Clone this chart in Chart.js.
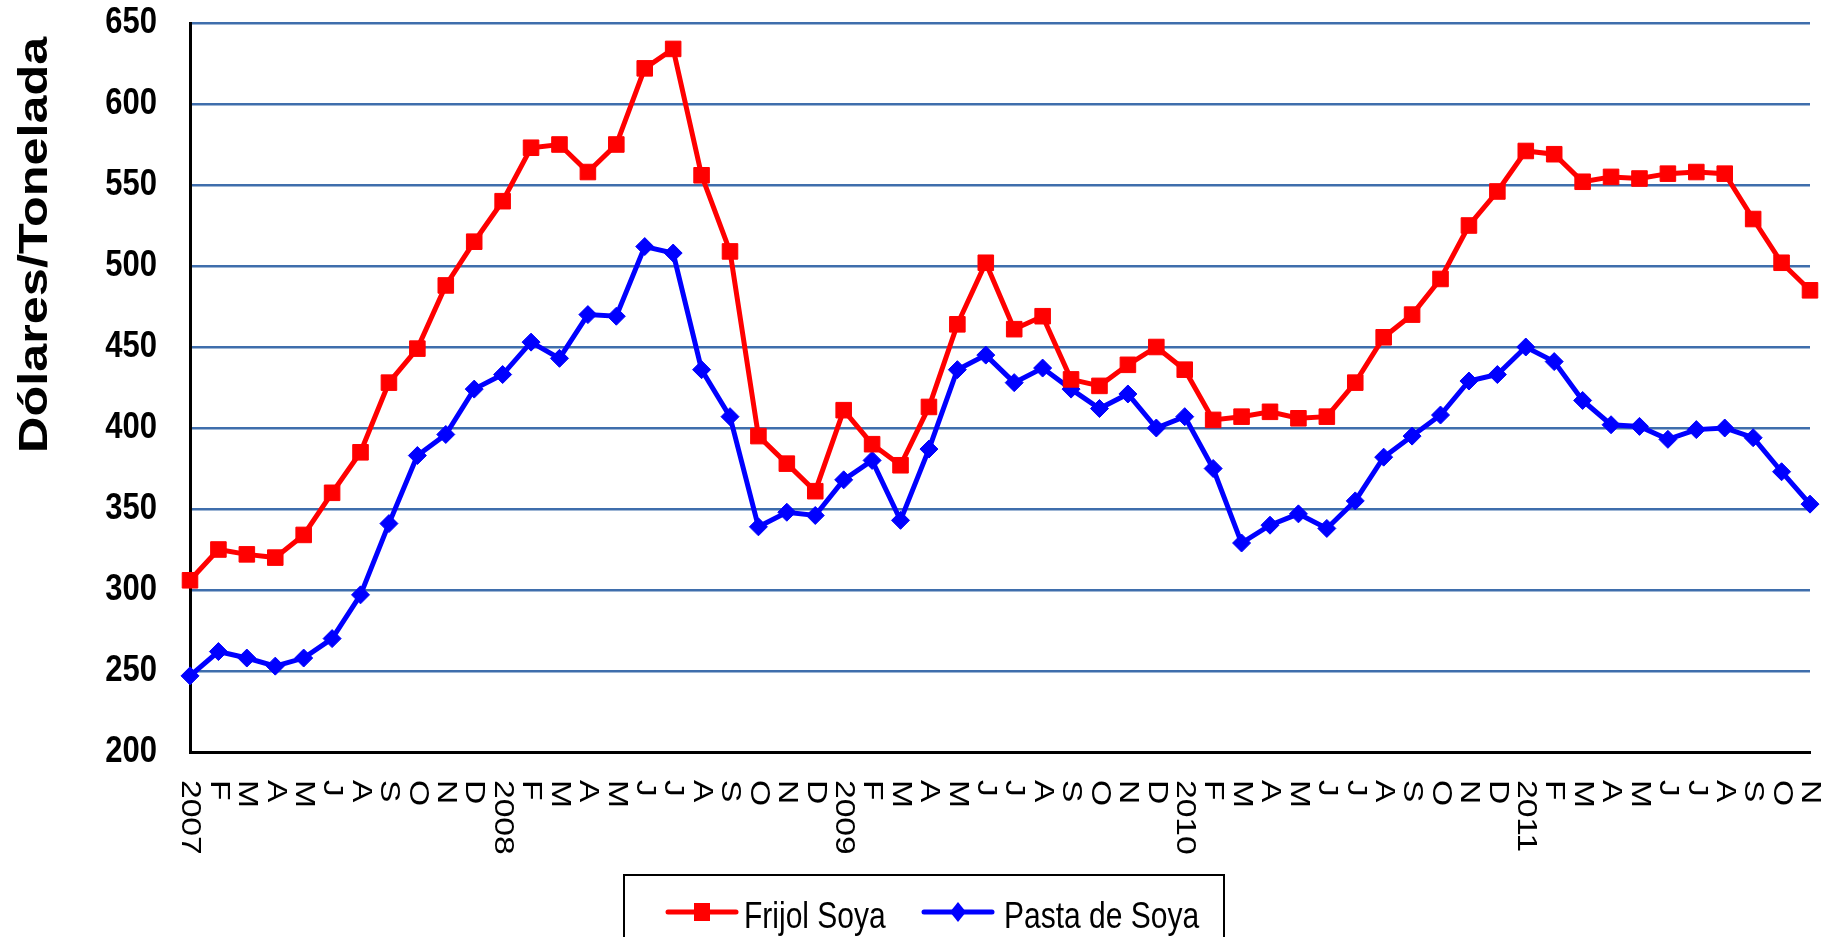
<!DOCTYPE html>
<html>
<head>
<meta charset="utf-8">
<script src="https://cdn.jsdelivr.net/npm/chart.js@4.4.1/dist/chart.umd.min.js"></script>
<style>
  html, body { margin: 0; padding: 0; background: #fff; }
  #wrap { width: 1845px; height: 937px; position: relative; }
</style>
</head>
<body>
<div id="wrap"><canvas id="c"></canvas></div>
<script>
// ---- data ----
const monthLabels = ['2007','F','M','A','M','J','A','S','O','N','D',
  '2008','F','M','A','M','J','J','A','S','O','N','D',
  '2009','F','M','A','M','J','J','A','S','O','N','D',
  '2010','F','M','A','M','J','J','A','S','O','N','D',
  '2011','F','M','A','M','J','J','A','S','O','N'];

const frijolSoya = [306, 325, 322, 320, 334, 360, 385, 428, 449, 488, 515,
  540, 573, 575, 558, 575, 622, 634, 556, 509, 395, 378, 361,
  411, 390, 377, 413, 464, 502, 461, 469, 430, 426, 439, 450,
  436, 405, 407, 410, 406, 407, 428, 456, 470, 492, 525, 546,
  571, 569, 552, 555, 554, 557, 558, 557, 529, 502, 485];

const pastaSoya = [247, 262, 258, 253, 258, 270, 297, 341, 383, 396, 424,
  433, 453, 443, 470, 469, 512, 508, 436, 407, 339, 348, 346,
  368, 380, 343, 387, 436, 445, 428, 437, 424, 412, 421, 400,
  407, 375, 329, 340, 347, 338, 355, 382, 395, 408, 429, 433,
  450, 441, 417, 402, 401, 393, 399, 400, 394, 373, 353];

const yTickValues = [200, 250, 300, 350, 400, 450, 500, 550, 600, 650];
const yTitle = 'Dólares/Tonelada';
const seriesNames = ['Frijol Soya', 'Pasta de Soya'];
const seriesColors = ['#FF0000', '#0000FF'];

const FONT = '"Liberation Sans", Arial, sans-serif';
const GRID = '#3f6eac';

const textPlugin = {
  id: 'customText',
  afterDraw(chart) {
    const ctx = chart.ctx;
    const xs = chart.scales.x, ys = chart.scales.y;
    const area = chart.chartArea;
    ctx.save();
    ctx.fillStyle = '#000';

    // y tick labels
    ctx.font = 'bold 31px ' + FONT;
    ctx.textAlign = 'right';
    ctx.textBaseline = 'middle';
    yTickValues.forEach(v => {
      const y = ys.getPixelForValue(v);
      ctx.save();
      ctx.translate(area.left - 33, y);
      ctx.scale(1, 1.2);
      ctx.fillText(String(v), 0, 0);
      ctx.restore();
    });

    // y title
    ctx.font = 'bold 40px ' + FONT;
    ctx.textAlign = 'left';
    ctx.textBaseline = 'alphabetic';
    ctx.save();
    ctx.translate(47, 453);
    ctx.rotate(-Math.PI / 2);
    ctx.scale(1.26, 1);
    ctx.fillText(yTitle, 0, 0);
    ctx.restore();

    // x tick labels (rotated clockwise, reading top to bottom)
    ctx.font = '28px ' + FONT;
    ctx.textAlign = 'left';
    ctx.textBaseline = 'middle';
    monthLabels.forEach((lab, i) => {
      const x = xs.getPixelForValue(i);
      ctx.save();
      ctx.translate(x, area.bottom + 28);
      ctx.rotate(Math.PI / 2);
      ctx.scale(1.2, 1);
      ctx.fillText(lab, 0, 0);
      ctx.restore();
    });

    // legend
    const bx = 624, by = 875, bw = 600, bh = 90;
    ctx.lineWidth = 2;
    ctx.strokeStyle = '#000';
    ctx.strokeRect(bx, by, bw, bh);
    const itemX = [668, 924];
    const textX = [744, 1004];
    const lineY = 912;
    chart.data.datasets.forEach((ds, k) => {
      ctx.strokeStyle = ds.borderColor;
      ctx.fillStyle = ds.borderColor;
      ctx.lineWidth = 5;
      ctx.lineCap = 'round';
      ctx.beginPath();
      ctx.moveTo(itemX[k], lineY);
      ctx.lineTo(itemX[k] + 68, lineY);
      ctx.stroke();
      const cx = itemX[k] + 34;
      ctx.beginPath();
      if (ds.pointStyle === 'rect') {
        ctx.rect(cx - 8, lineY - 9, 16, 18);
      } else {
        ctx.moveTo(cx - 8, lineY);
        ctx.lineTo(cx, lineY - 10);
        ctx.lineTo(cx + 8, lineY);
        ctx.lineTo(cx, lineY + 10);
        ctx.closePath();
      }
      ctx.fill();
      ctx.fillStyle = '#000';
      ctx.font = '30px ' + FONT;
      ctx.textAlign = 'left';
      ctx.textBaseline = 'alphabetic';
      ctx.save();
      ctx.translate(textX[k], 928);
      ctx.scale(1, 1.25);
      ctx.fillText(ds.label, 0, 0);
      ctx.restore();
    });
    ctx.restore();
  }
};

new Chart(document.getElementById('c'), {
  type: 'line',
  data: {
    labels: monthLabels,
    datasets: [
      {
        label: seriesNames[0],
        data: frijolSoya,
        borderColor: seriesColors[0],
        backgroundColor: seriesColors[0],
        borderWidth: 5,
        tension: 0,
        pointStyle: 'rect',
        pointRadius: 11,
        pointHoverRadius: 11,
        pointBorderWidth: 1,
        pointBackgroundColor: seriesColors[0],
        pointBorderColor: seriesColors[0]
      },
      {
        label: seriesNames[1],
        data: pastaSoya,
        borderColor: seriesColors[1],
        backgroundColor: seriesColors[1],
        borderWidth: 5,
        tension: 0,
        pointStyle: 'rectRot',
        pointRadius: 9,
        pointHoverRadius: 9,
        pointBorderWidth: 1,
        pointBackgroundColor: seriesColors[1],
        pointBorderColor: seriesColors[1]
      }
    ]
  },
  options: {
    responsive: true,
    maintainAspectRatio: false,
    animation: false,
    layout: { padding: { top: 23, right: 35, left: 0, bottom: 0 } },
    plugins: {
      legend: { display: false },
      tooltip: { enabled: false },
      title: { display: false }
    },
    scales: {
      x: {
        offset: false,
        grid: { display: false, drawTicks: false },
        border: { display: true, color: '#000', width: 3 },
        ticks: { display: false },
        afterFit(scale) { scale.height = 185; }
      },
      y: {
        min: 200,
        max: 650,
        ticks: { display: false, stepSize: 50 },
        grid: {
          drawTicks: false,
          color: (c) => (c.tick && c.tick.value === 200) ? '#000' : GRID,
          lineWidth: (c) => (c.tick && c.tick.value === 200) ? 3 : 2.5
        },
        border: { display: true, color: '#000', width: 3 },
        afterFit(scale) { scale.width = 190; }
      }
    }
  },
  plugins: [textPlugin]
});
</script>
</body>
</html>
